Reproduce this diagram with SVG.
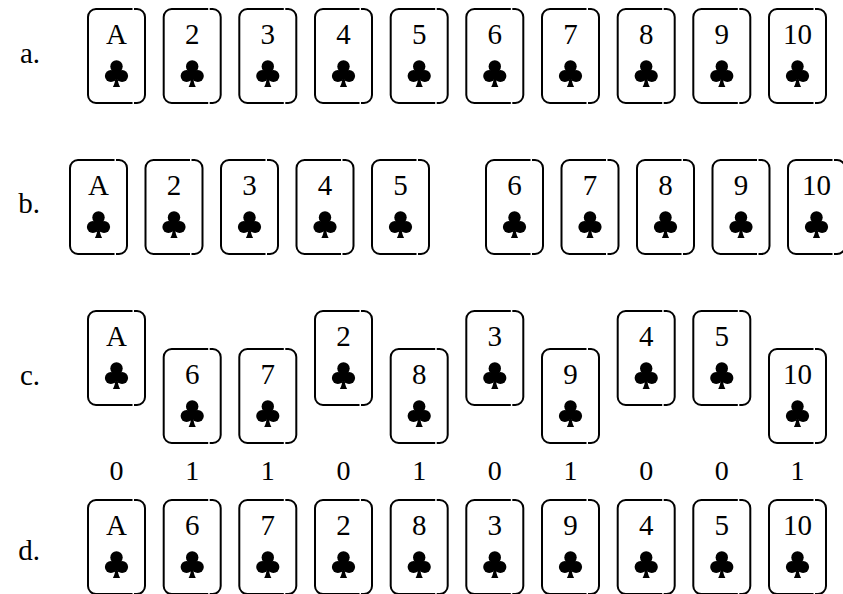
<svg xmlns="http://www.w3.org/2000/svg" xmlns:xlink="http://www.w3.org/1999/xlink" width="843" height="594" viewBox="0 0 843 594">
<style>
.card{fill:none;stroke:#000;stroke-width:2;stroke-linecap:butt}
.bg{fill:#fff;stroke:none}
.rank{font-family:"Liberation Serif","DejaVu Serif",serif;font-size:29px;text-anchor:middle;fill:#000}
.lbl{font-family:"Liberation Serif","DejaVu Serif",serif;font-size:29px;text-anchor:end;fill:#000}
.bit{font-family:"Liberation Serif","DejaVu Serif",serif;font-size:28px;text-anchor:middle;fill:#000}
</style>
<defs>
<g id="frame">
<rect class="bg" x="1" y="1" width="57" height="94" rx="8"/>
<path class="card" d="M47 1H50A8 8 0 0 1 58 9V87A8 8 0 0 1 50 95H47"/>
<path class="card" d="M45.5 95H9A8 8 0 0 1 1 87V9A8 8 0 0 1 9 1H45.5"/>
</g>
<g id="club">
<circle cx="0" cy="-7" r="6.2"/>
<circle cx="-5.6" cy="2.4" r="6"/>
<circle cx="5.6" cy="2.4" r="6"/>
<path d="M-3.5 -3L3.5 -3L3.5 3L-3.5 3Z"/>
<path d="M-1.1 2C-1.1 7 -2 11 -3.6 13.5H3.6C2 11 1.1 7 1.1 2Z"/>
</g>
</defs>
<rect width="843" height="594" fill="#fff"/>
<g id="labels">
<text class="lbl" x="40" y="63">a.</text>
<text class="lbl" x="40" y="213">b.</text>
<text class="lbl" x="40" y="385">c.</text>
<text class="lbl" x="40" y="560">d.</text>
</g>
<g id="row-a">
<g id="a1" transform="translate(87,8)"><use href="#frame"/><text class="rank" x="29.5" y="36">A</text><use href="#club" x="29.5" y="65.5"/></g>
<g id="a2" transform="translate(162.7,8)"><use href="#frame"/><text class="rank" x="29.5" y="36">2</text><use href="#club" x="29.5" y="65.5"/></g>
<g id="a3" transform="translate(238.3,8)"><use href="#frame"/><text class="rank" x="29.5" y="36">3</text><use href="#club" x="29.5" y="65.5"/></g>
<g id="a4" transform="translate(314,8)"><use href="#frame"/><text class="rank" x="29.5" y="36">4</text><use href="#club" x="29.5" y="65.5"/></g>
<g id="a5" transform="translate(389.7,8)"><use href="#frame"/><text class="rank" x="29.5" y="36">5</text><use href="#club" x="29.5" y="65.5"/></g>
<g id="a6" transform="translate(465.3,8)"><use href="#frame"/><text class="rank" x="29.5" y="36">6</text><use href="#club" x="29.5" y="65.5"/></g>
<g id="a7" transform="translate(541,8)"><use href="#frame"/><text class="rank" x="29.5" y="36">7</text><use href="#club" x="29.5" y="65.5"/></g>
<g id="a8" transform="translate(616.7,8)"><use href="#frame"/><text class="rank" x="29.5" y="36">8</text><use href="#club" x="29.5" y="65.5"/></g>
<g id="a9" transform="translate(692.3,8)"><use href="#frame"/><text class="rank" x="29.5" y="36">9</text><use href="#club" x="29.5" y="65.5"/></g>
<g id="a10" transform="translate(768,8)"><use href="#frame"/><text class="rank" x="29.5" y="36">10</text><use href="#club" x="29.5" y="65.5"/></g>
</g>
<g id="row-b">
<g id="b1" transform="translate(69,159)"><use href="#frame"/><text class="rank" x="29.5" y="36">A</text><use href="#club" x="29.5" y="65.5"/></g>
<g id="b2" transform="translate(144.5,159)"><use href="#frame"/><text class="rank" x="29.5" y="36">2</text><use href="#club" x="29.5" y="65.5"/></g>
<g id="b3" transform="translate(220,159)"><use href="#frame"/><text class="rank" x="29.5" y="36">3</text><use href="#club" x="29.5" y="65.5"/></g>
<g id="b4" transform="translate(295.5,159)"><use href="#frame"/><text class="rank" x="29.5" y="36">4</text><use href="#club" x="29.5" y="65.5"/></g>
<g id="b5" transform="translate(371,159)"><use href="#frame"/><text class="rank" x="29.5" y="36">5</text><use href="#club" x="29.5" y="65.5"/></g>
<g id="b6" transform="translate(485,159)"><use href="#frame"/><text class="rank" x="29.5" y="36">6</text><use href="#club" x="29.5" y="65.5"/></g>
<g id="b7" transform="translate(560.5,159)"><use href="#frame"/><text class="rank" x="29.5" y="36">7</text><use href="#club" x="29.5" y="65.5"/></g>
<g id="b8" transform="translate(636,159)"><use href="#frame"/><text class="rank" x="29.5" y="36">8</text><use href="#club" x="29.5" y="65.5"/></g>
<g id="b9" transform="translate(711.5,159)"><use href="#frame"/><text class="rank" x="29.5" y="36">9</text><use href="#club" x="29.5" y="65.5"/></g>
<g id="b10" transform="translate(787,159)"><use href="#frame"/><text class="rank" x="29.5" y="36">10</text><use href="#club" x="29.5" y="65.5"/></g>
</g>
<g id="row-c">
<g id="c1" transform="translate(87,310)"><use href="#frame"/><text class="rank" x="29.5" y="36">A</text><use href="#club" x="29.5" y="65.5"/></g>
<g id="c2" transform="translate(162.7,348)"><use href="#frame"/><text class="rank" x="29.5" y="36">6</text><use href="#club" x="29.5" y="65.5"/></g>
<g id="c3" transform="translate(238.3,348)"><use href="#frame"/><text class="rank" x="29.5" y="36">7</text><use href="#club" x="29.5" y="65.5"/></g>
<g id="c4" transform="translate(314,310)"><use href="#frame"/><text class="rank" x="29.5" y="36">2</text><use href="#club" x="29.5" y="65.5"/></g>
<g id="c5" transform="translate(389.7,348)"><use href="#frame"/><text class="rank" x="29.5" y="36">8</text><use href="#club" x="29.5" y="65.5"/></g>
<g id="c6" transform="translate(465.3,310)"><use href="#frame"/><text class="rank" x="29.5" y="36">3</text><use href="#club" x="29.5" y="65.5"/></g>
<g id="c7" transform="translate(541,348)"><use href="#frame"/><text class="rank" x="29.5" y="36">9</text><use href="#club" x="29.5" y="65.5"/></g>
<g id="c8" transform="translate(616.7,310)"><use href="#frame"/><text class="rank" x="29.5" y="36">4</text><use href="#club" x="29.5" y="65.5"/></g>
<g id="c9" transform="translate(692.3,310)"><use href="#frame"/><text class="rank" x="29.5" y="36">5</text><use href="#club" x="29.5" y="65.5"/></g>
<g id="c10" transform="translate(768,348)"><use href="#frame"/><text class="rank" x="29.5" y="36">10</text><use href="#club" x="29.5" y="65.5"/></g>
</g>
<g id="bits">
<text class="bit" x="116.5" y="480">0</text>
<text class="bit" x="192.2" y="480">1</text>
<text class="bit" x="267.8" y="480">1</text>
<text class="bit" x="343.5" y="480">0</text>
<text class="bit" x="419.2" y="480">1</text>
<text class="bit" x="494.8" y="480">0</text>
<text class="bit" x="570.5" y="480">1</text>
<text class="bit" x="646.2" y="480">0</text>
<text class="bit" x="721.8" y="480">0</text>
<text class="bit" x="797.5" y="480">1</text>
</g>
<g id="row-d">
<g id="d1" transform="translate(87,499)"><use href="#frame"/><text class="rank" x="29.5" y="36">A</text><use href="#club" x="29.5" y="65.5"/></g>
<g id="d2" transform="translate(162.7,499)"><use href="#frame"/><text class="rank" x="29.5" y="36">6</text><use href="#club" x="29.5" y="65.5"/></g>
<g id="d3" transform="translate(238.3,499)"><use href="#frame"/><text class="rank" x="29.5" y="36">7</text><use href="#club" x="29.5" y="65.5"/></g>
<g id="d4" transform="translate(314,499)"><use href="#frame"/><text class="rank" x="29.5" y="36">2</text><use href="#club" x="29.5" y="65.5"/></g>
<g id="d5" transform="translate(389.7,499)"><use href="#frame"/><text class="rank" x="29.5" y="36">8</text><use href="#club" x="29.5" y="65.5"/></g>
<g id="d6" transform="translate(465.3,499)"><use href="#frame"/><text class="rank" x="29.5" y="36">3</text><use href="#club" x="29.5" y="65.5"/></g>
<g id="d7" transform="translate(541,499)"><use href="#frame"/><text class="rank" x="29.5" y="36">9</text><use href="#club" x="29.5" y="65.5"/></g>
<g id="d8" transform="translate(616.7,499)"><use href="#frame"/><text class="rank" x="29.5" y="36">4</text><use href="#club" x="29.5" y="65.5"/></g>
<g id="d9" transform="translate(692.3,499)"><use href="#frame"/><text class="rank" x="29.5" y="36">5</text><use href="#club" x="29.5" y="65.5"/></g>
<g id="d10" transform="translate(768,499)"><use href="#frame"/><text class="rank" x="29.5" y="36">10</text><use href="#club" x="29.5" y="65.5"/></g>
</g>
</svg>
